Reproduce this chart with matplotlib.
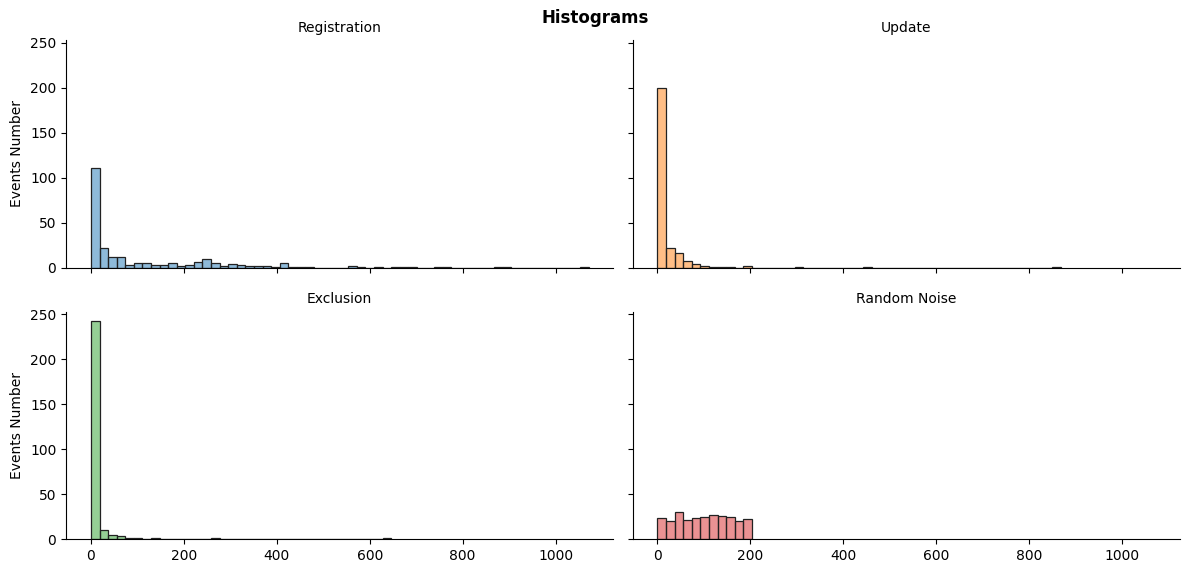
import matplotlib
matplotlib.use("Agg")
import matplotlib.pyplot as plt
import numpy as np
from matplotlib.colors import to_rgba

# bin layout shared by all facets
bin_width = 1071 / 58
n_bins = 58

# counts per bin, index = bin number
registration = {0: 111, 1: 22, 2: 12, 3: 12, 4: 3, 5: 5, 6: 5, 7: 3, 8: 3, 9: 5,
                10: 2, 11: 3, 12: 6, 13: 10, 14: 5, 15: 2, 16: 4, 17: 3, 18: 2,
                19: 2, 20: 2, 21: 1, 22: 5, 23: 1, 24: 1, 25: 1, 30: 2, 31: 1,
                33: 1, 35: 1, 36: 1, 37: 1, 40: 1, 41: 1, 47: 1, 48: 1, 57: 1}
update = {0: 200, 1: 22, 2: 16, 3: 7, 4: 4, 5: 2, 6: 1, 7: 1, 8: 1, 10: 2,
          16: 1, 24: 1, 46: 1}
exclusion = {0: 242, 1: 10, 2: 5, 3: 3, 4: 1, 5: 1, 7: 1, 14: 1, 34: 1}
random_noise = {0: 23, 1: 20, 2: 30, 3: 21, 4: 23, 5: 24, 6: 27, 7: 26, 8: 24,
                9: 20, 10: 22}

panels = ["Registration", "Update", "Exclusion", "Random Noise"]
panel_counts = [registration, update, exclusion, random_noise]
colors = ["#1f77b4", "#ff7f0e", "#2ca02c", "#d62728"]

fig, axes = plt.subplots(2, 2, figsize=(11.9, 5.73), dpi=100, sharex=True, sharey=True)
fig.subplots_adjust(left=0.0555, right=0.9916, top=0.930, bottom=0.0593,
                    hspace=0.193, wspace=0.035)

for ax, name, counts, color in zip(axes.flat, panels, panel_counts, colors):
    last = max(counts) + 1
    edges = np.arange(last + 1) * bin_width
    weights = np.array([counts.get(i, 0) for i in range(last)], dtype=float)
    ax.hist(edges[:-1] + bin_width / 2, bins=edges, weights=weights,
            facecolor=to_rgba(color, 0.5), edgecolor="#222222", linewidth=0.9)
    ax.set_title(name, fontsize=10)
    ax.spines["top"].set_visible(False)
    ax.spines["right"].set_visible(False)

ax0 = axes[0, 0]
ax0.set_xlim(-0.05 * n_bins * bin_width, 1.05 * n_bins * bin_width)
ax0.set_ylim(0, 242 * 1.045)
ax0.set_xticks([0, 200, 400, 600, 800, 1000])
ax0.set_yticks([0, 50, 100, 150, 200, 250])

for ax in axes[:, 0]:
    ax.set_ylabel("Events Number", fontsize=10)

fig.suptitle("Histograms", fontsize=12, fontweight="bold", y=0.985)
fig.savefig("out.png", dpi=100, facecolor="white")
plt.close(fig)
